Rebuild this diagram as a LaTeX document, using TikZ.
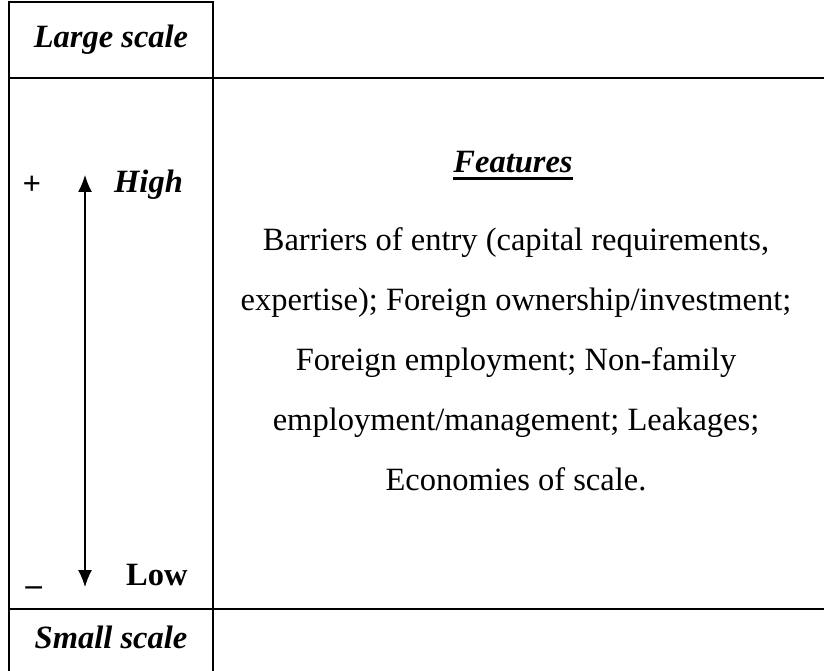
\documentclass[tikz,border=0pt]{standalone}
\usepackage{fontspec}
\setmainfont{Liberation Serif}
\usetikzlibrary{arrows.meta}

\tikzset{
  bordo/.style={line width=2pt},
  testo/.style={anchor=base, inner sep=0pt, font=\fontsize{32.5}{38}\selectfont},
  titolo/.style={testo, font=\fontsize{32.5}{38}\selectfont\bfseries\itshape},
  punta/.tip={Latex[length=17pt,width=14pt]},
}

\begin{document}
\begin{tikzpicture}[x=1pt, y=-1pt]
\useasboundingbox (0,0) rectangle (824,671);

% Disegno della tabella
\draw[bordo] (9,671) -- (9,2) -- (213,2) -- (213,671);
\draw[bordo] (9,78) -- (824,78);
\draw[bordo] (9,609) -- (824,609);

% Etichette della colonna di sinistra
\node[titolo] (grande) at (111,48) {Large scale};
\node[titolo] (piccola) at (111,648) {Small scale};
\node[titolo, anchor=base west] (alto) at (114,193) {High};
\node[testo, anchor=base west, font=\fontsize{32.5}{38}\selectfont\bfseries] (basso) at (126,585) {Low};
\node[testo] (piu) at (32,194) {\textbf{+}};
\node[testo] (meno) at (34,584) {\textbf{\_}};

% Freccia tra alto e basso
\coordinate (cima) at (85,175);
\coordinate (fondo) at (85,587);
\draw[punta-punta, line width=1.3pt] (cima) -- (fondo);

% Titolo delle caratteristiche
\node[titolo] (caratt) at (513,173) {Features};
\draw[line width=2.8pt] ([yshift=-5.5pt]caratt.base west) -- ([yshift=-5.5pt]caratt.base east);

% Testo delle caratteristiche
\node[testo] (riga1) at (516,250) {Barriers of entry (capital requirements,};
\node[testo] (riga2) at (516,310) {expertise); Foreign ownership/investment;};
\node[testo] (riga3) at (516,370) {Foreign employment; Non-family};
\node[testo] (riga4) at (516,430) {employment/management; Leakages;};
\node[testo] (riga5) at (516,490) {Economies of scale.};

\end{tikzpicture}
\end{document}
